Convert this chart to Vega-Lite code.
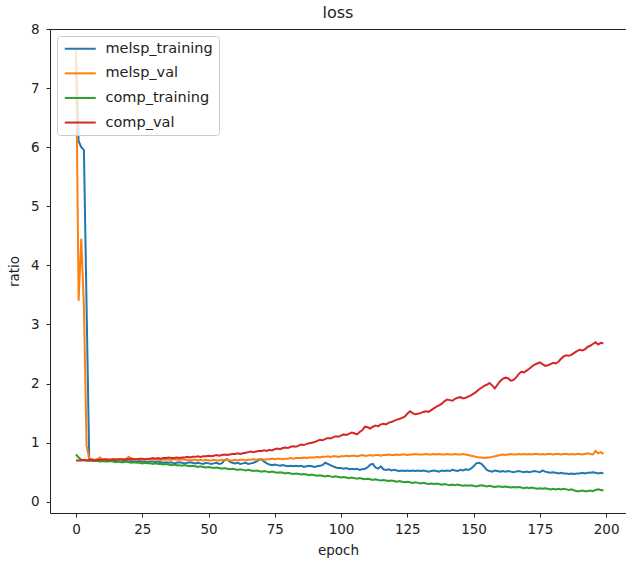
{
"$schema": "https://vega.github.io/schema/vega-lite/v6.json",
"autosize": {"type": "none"},
"padding": {"left": 50, "top": 29, "right": 0, "bottom": 48},
"width": 576,
"height": 484,
"title": {"text": "loss", "fontSize": 16, "font": "DejaVu Sans", "fontWeight": "normal", "color": "#222222", "offset": 1},
"data": {"values": [
{"epoch":0,"melsp_training":7.55,"melsp_val":7.65,"comp_training":0.80,"comp_val":0.70},
{"epoch":1,"melsp_training":6.10,"melsp_val":3.40,"comp_training":0.75,"comp_val":0.70},
{"epoch":2,"melsp_training":6.00,"melsp_val":4.45,"comp_training":0.71,"comp_val":0.70},
{"epoch":3,"melsp_training":5.95,"melsp_val":3.30,"comp_training":0.70,"comp_val":0.71},
{"epoch":4,"melsp_training":3.30,"melsp_val":0.95,"comp_training":0.70,"comp_val":0.70},
{"epoch":5,"melsp_training":0.72,"melsp_val":0.73,"comp_training":0.69,"comp_val":0.71},
{"epoch":6,"melsp_training":0.70,"melsp_val":0.72,"comp_training":0.70,"comp_val":0.71},
{"epoch":7,"melsp_training":0.70,"melsp_val":0.71,"comp_training":0.69,"comp_val":0.70},
{"epoch":8,"melsp_training":0.69,"melsp_val":0.72,"comp_training":0.69,"comp_val":0.71},
{"epoch":9,"melsp_training":0.70,"melsp_val":0.75,"comp_training":0.68,"comp_val":0.71},
{"epoch":10,"melsp_training":0.69,"melsp_val":0.72,"comp_training":0.69,"comp_val":0.71},
{"epoch":11,"melsp_training":0.70,"melsp_val":0.71,"comp_training":0.68,"comp_val":0.72},
{"epoch":12,"melsp_training":0.69,"melsp_val":0.72,"comp_training":0.68,"comp_val":0.71},
{"epoch":13,"melsp_training":0.69,"melsp_val":0.71,"comp_training":0.69,"comp_val":0.71},
{"epoch":14,"melsp_training":0.70,"melsp_val":0.72,"comp_training":0.68,"comp_val":0.72},
{"epoch":15,"melsp_training":0.69,"melsp_val":0.72,"comp_training":0.67,"comp_val":0.71},
{"epoch":16,"melsp_training":0.69,"melsp_val":0.71,"comp_training":0.68,"comp_val":0.72},
{"epoch":17,"melsp_training":0.68,"melsp_val":0.72,"comp_training":0.67,"comp_val":0.72},
{"epoch":18,"melsp_training":0.69,"melsp_val":0.72,"comp_training":0.67,"comp_val":0.71},
{"epoch":19,"melsp_training":0.69,"melsp_val":0.73,"comp_training":0.68,"comp_val":0.72},
{"epoch":20,"melsp_training":0.68,"melsp_val":0.76,"comp_training":0.67,"comp_val":0.72},
{"epoch":21,"melsp_training":0.69,"melsp_val":0.72,"comp_training":0.66,"comp_val":0.73},
{"epoch":22,"melsp_training":0.68,"melsp_val":0.71,"comp_training":0.67,"comp_val":0.72},
{"epoch":23,"melsp_training":0.68,"melsp_val":0.72,"comp_training":0.66,"comp_val":0.72},
{"epoch":24,"melsp_training":0.69,"melsp_val":0.72,"comp_training":0.66,"comp_val":0.73},
{"epoch":25,"melsp_training":0.68,"melsp_val":0.71,"comp_training":0.65,"comp_val":0.73},
{"epoch":26,"melsp_training":0.68,"melsp_val":0.72,"comp_training":0.66,"comp_val":0.72},
{"epoch":27,"melsp_training":0.67,"melsp_val":0.71,"comp_training":0.65,"comp_val":0.73},
{"epoch":28,"melsp_training":0.68,"melsp_val":0.72,"comp_training":0.65,"comp_val":0.73},
{"epoch":29,"melsp_training":0.68,"melsp_val":0.72,"comp_training":0.64,"comp_val":0.74},
{"epoch":30,"melsp_training":0.67,"melsp_val":0.71,"comp_training":0.65,"comp_val":0.73},
{"epoch":31,"melsp_training":0.68,"melsp_val":0.72,"comp_training":0.64,"comp_val":0.74},
{"epoch":32,"melsp_training":0.67,"melsp_val":0.71,"comp_training":0.64,"comp_val":0.73},
{"epoch":33,"melsp_training":0.66,"melsp_val":0.71,"comp_training":0.63,"comp_val":0.74},
{"epoch":34,"melsp_training":0.67,"melsp_val":0.72,"comp_training":0.64,"comp_val":0.74},
{"epoch":35,"melsp_training":0.66,"melsp_val":0.71,"comp_training":0.63,"comp_val":0.75},
{"epoch":36,"melsp_training":0.67,"melsp_val":0.71,"comp_training":0.62,"comp_val":0.74},
{"epoch":37,"melsp_training":0.65,"melsp_val":0.72,"comp_training":0.63,"comp_val":0.74},
{"epoch":38,"melsp_training":0.66,"melsp_val":0.71,"comp_training":0.62,"comp_val":0.75},
{"epoch":39,"melsp_training":0.67,"melsp_val":0.71,"comp_training":0.62,"comp_val":0.74},
{"epoch":40,"melsp_training":0.66,"melsp_val":0.72,"comp_training":0.61,"comp_val":0.75},
{"epoch":41,"melsp_training":0.65,"melsp_val":0.71,"comp_training":0.62,"comp_val":0.75},
{"epoch":42,"melsp_training":0.66,"melsp_val":0.71,"comp_training":0.61,"comp_val":0.76},
{"epoch":43,"melsp_training":0.67,"melsp_val":0.70,"comp_training":0.60,"comp_val":0.75},
{"epoch":44,"melsp_training":0.66,"melsp_val":0.71,"comp_training":0.61,"comp_val":0.76},
{"epoch":45,"melsp_training":0.65,"melsp_val":0.71,"comp_training":0.60,"comp_val":0.76},
{"epoch":46,"melsp_training":0.66,"melsp_val":0.70,"comp_training":0.59,"comp_val":0.77},
{"epoch":47,"melsp_training":0.65,"melsp_val":0.71,"comp_training":0.60,"comp_val":0.76},
{"epoch":48,"melsp_training":0.64,"melsp_val":0.70,"comp_training":0.59,"comp_val":0.77},
{"epoch":49,"melsp_training":0.66,"melsp_val":0.71,"comp_training":0.58,"comp_val":0.77},
{"epoch":50,"melsp_training":0.65,"melsp_val":0.70,"comp_training":0.59,"comp_val":0.78},
{"epoch":51,"melsp_training":0.64,"melsp_val":0.70,"comp_training":0.58,"comp_val":0.77},
{"epoch":52,"melsp_training":0.65,"melsp_val":0.71,"comp_training":0.57,"comp_val":0.78},
{"epoch":53,"melsp_training":0.66,"melsp_val":0.70,"comp_training":0.58,"comp_val":0.79},
{"epoch":54,"melsp_training":0.64,"melsp_val":0.70,"comp_training":0.57,"comp_val":0.78},
{"epoch":55,"melsp_training":0.65,"melsp_val":0.71,"comp_training":0.56,"comp_val":0.79},
{"epoch":56,"melsp_training":0.70,"melsp_val":0.70,"comp_training":0.57,"comp_val":0.80},
{"epoch":57,"melsp_training":0.72,"melsp_val":0.71,"comp_training":0.56,"comp_val":0.79},
{"epoch":58,"melsp_training":0.68,"melsp_val":0.70,"comp_training":0.55,"comp_val":0.80},
{"epoch":59,"melsp_training":0.66,"melsp_val":0.70,"comp_training":0.56,"comp_val":0.81},
{"epoch":60,"melsp_training":0.65,"melsp_val":0.71,"comp_training":0.55,"comp_val":0.81},
{"epoch":61,"melsp_training":0.66,"melsp_val":0.70,"comp_training":0.54,"comp_val":0.82},
{"epoch":62,"melsp_training":0.64,"melsp_val":0.71,"comp_training":0.55,"comp_val":0.81},
{"epoch":63,"melsp_training":0.65,"melsp_val":0.71,"comp_training":0.54,"comp_val":0.82},
{"epoch":64,"melsp_training":0.66,"melsp_val":0.70,"comp_training":0.53,"comp_val":0.83},
{"epoch":65,"melsp_training":0.64,"melsp_val":0.71,"comp_training":0.54,"comp_val":0.84},
{"epoch":66,"melsp_training":0.65,"melsp_val":0.71,"comp_training":0.53,"comp_val":0.85},
{"epoch":67,"melsp_training":0.66,"melsp_val":0.72,"comp_training":0.52,"comp_val":0.84},
{"epoch":68,"melsp_training":0.68,"melsp_val":0.71,"comp_training":0.53,"comp_val":0.85},
{"epoch":69,"melsp_training":0.71,"melsp_val":0.72,"comp_training":0.52,"comp_val":0.86},
{"epoch":70,"melsp_training":0.72,"melsp_val":0.72,"comp_training":0.51,"comp_val":0.86},
{"epoch":71,"melsp_training":0.68,"melsp_val":0.71,"comp_training":0.52,"comp_val":0.87},
{"epoch":72,"melsp_training":0.65,"melsp_val":0.72,"comp_training":0.51,"comp_val":0.86},
{"epoch":73,"melsp_training":0.63,"melsp_val":0.72,"comp_training":0.50,"comp_val":0.88},
{"epoch":74,"melsp_training":0.62,"melsp_val":0.73,"comp_training":0.51,"comp_val":0.87},
{"epoch":75,"melsp_training":0.63,"melsp_val":0.72,"comp_training":0.50,"comp_val":0.89},
{"epoch":76,"melsp_training":0.62,"melsp_val":0.73,"comp_training":0.49,"comp_val":0.90},
{"epoch":77,"melsp_training":0.61,"melsp_val":0.73,"comp_training":0.50,"comp_val":0.89},
{"epoch":78,"melsp_training":0.62,"melsp_val":0.72,"comp_training":0.49,"comp_val":0.91},
{"epoch":79,"melsp_training":0.61,"melsp_val":0.73,"comp_training":0.48,"comp_val":0.92},
{"epoch":80,"melsp_training":0.60,"melsp_val":0.73,"comp_training":0.49,"comp_val":0.91},
{"epoch":81,"melsp_training":0.61,"melsp_val":0.74,"comp_training":0.48,"comp_val":0.93},
{"epoch":82,"melsp_training":0.60,"melsp_val":0.73,"comp_training":0.47,"comp_val":0.94},
{"epoch":83,"melsp_training":0.61,"melsp_val":0.74,"comp_training":0.48,"comp_val":0.93},
{"epoch":84,"melsp_training":0.60,"melsp_val":0.74,"comp_training":0.47,"comp_val":0.95},
{"epoch":85,"melsp_training":0.61,"melsp_val":0.74,"comp_training":0.46,"comp_val":0.97},
{"epoch":86,"melsp_training":0.59,"melsp_val":0.75,"comp_training":0.47,"comp_val":0.96},
{"epoch":87,"melsp_training":0.60,"melsp_val":0.74,"comp_training":0.46,"comp_val":0.98},
{"epoch":88,"melsp_training":0.61,"melsp_val":0.75,"comp_training":0.45,"comp_val":0.99},
{"epoch":89,"melsp_training":0.60,"melsp_val":0.75,"comp_training":0.46,"comp_val":1.00},
{"epoch":90,"melsp_training":0.59,"melsp_val":0.75,"comp_training":0.45,"comp_val":1.01},
{"epoch":91,"melsp_training":0.60,"melsp_val":0.76,"comp_training":0.44,"comp_val":1.03},
{"epoch":92,"melsp_training":0.61,"melsp_val":0.75,"comp_training":0.45,"comp_val":1.05},
{"epoch":93,"melsp_training":0.62,"melsp_val":0.76,"comp_training":0.44,"comp_val":1.04},
{"epoch":94,"melsp_training":0.66,"melsp_val":0.76,"comp_training":0.43,"comp_val":1.06},
{"epoch":95,"melsp_training":0.64,"melsp_val":0.77,"comp_training":0.44,"comp_val":1.08},
{"epoch":96,"melsp_training":0.62,"melsp_val":0.76,"comp_training":0.43,"comp_val":1.07},
{"epoch":97,"melsp_training":0.60,"melsp_val":0.77,"comp_training":0.42,"comp_val":1.09},
{"epoch":98,"melsp_training":0.58,"melsp_val":0.77,"comp_training":0.43,"comp_val":1.11},
{"epoch":99,"melsp_training":0.57,"melsp_val":0.76,"comp_training":0.42,"comp_val":1.10},
{"epoch":100,"melsp_training":0.57,"melsp_val":0.77,"comp_training":0.41,"comp_val":1.12},
{"epoch":101,"melsp_training":0.56,"melsp_val":0.77,"comp_training":0.42,"comp_val":1.14},
{"epoch":102,"melsp_training":0.57,"melsp_val":0.78,"comp_training":0.41,"comp_val":1.13},
{"epoch":103,"melsp_training":0.55,"melsp_val":0.77,"comp_training":0.40,"comp_val":1.15},
{"epoch":104,"melsp_training":0.56,"melsp_val":0.78,"comp_training":0.41,"comp_val":1.17},
{"epoch":105,"melsp_training":0.55,"melsp_val":0.78,"comp_training":0.40,"comp_val":1.16},
{"epoch":106,"melsp_training":0.56,"melsp_val":0.77,"comp_training":0.39,"comp_val":1.14},
{"epoch":107,"melsp_training":0.54,"melsp_val":0.78,"comp_training":0.40,"comp_val":1.18},
{"epoch":108,"melsp_training":0.55,"melsp_val":0.79,"comp_training":0.39,"comp_val":1.21},
{"epoch":109,"melsp_training":0.56,"melsp_val":0.78,"comp_training":0.38,"comp_val":1.27},
{"epoch":110,"melsp_training":0.58,"melsp_val":0.78,"comp_training":0.39,"comp_val":1.26},
{"epoch":111,"melsp_training":0.63,"melsp_val":0.79,"comp_training":0.38,"comp_val":1.24},
{"epoch":112,"melsp_training":0.64,"melsp_val":0.78,"comp_training":0.37,"comp_val":1.27},
{"epoch":113,"melsp_training":0.58,"melsp_val":0.79,"comp_training":0.38,"comp_val":1.29},
{"epoch":114,"melsp_training":0.56,"melsp_val":0.79,"comp_training":0.37,"comp_val":1.28},
{"epoch":115,"melsp_training":0.60,"melsp_val":0.78,"comp_training":0.36,"comp_val":1.31},
{"epoch":116,"melsp_training":0.55,"melsp_val":0.79,"comp_training":0.37,"comp_val":1.32},
{"epoch":117,"melsp_training":0.54,"melsp_val":0.79,"comp_training":0.36,"comp_val":1.31},
{"epoch":118,"melsp_training":0.55,"melsp_val":0.80,"comp_training":0.35,"comp_val":1.34},
{"epoch":119,"melsp_training":0.53,"melsp_val":0.79,"comp_training":0.36,"comp_val":1.35},
{"epoch":120,"melsp_training":0.54,"melsp_val":0.79,"comp_training":0.35,"comp_val":1.37},
{"epoch":121,"melsp_training":0.53,"melsp_val":0.80,"comp_training":0.34,"comp_val":1.39},
{"epoch":122,"melsp_training":0.52,"melsp_val":0.79,"comp_training":0.35,"comp_val":1.40},
{"epoch":123,"melsp_training":0.53,"melsp_val":0.80,"comp_training":0.34,"comp_val":1.42},
{"epoch":124,"melsp_training":0.52,"melsp_val":0.80,"comp_training":0.33,"comp_val":1.44},
{"epoch":125,"melsp_training":0.53,"melsp_val":0.79,"comp_training":0.34,"comp_val":1.49},
{"epoch":126,"melsp_training":0.52,"melsp_val":0.80,"comp_training":0.33,"comp_val":1.53},
{"epoch":127,"melsp_training":0.53,"melsp_val":0.80,"comp_training":0.32,"comp_val":1.50},
{"epoch":128,"melsp_training":0.52,"melsp_val":0.81,"comp_training":0.33,"comp_val":1.48},
{"epoch":129,"melsp_training":0.53,"melsp_val":0.80,"comp_training":0.32,"comp_val":1.49},
{"epoch":130,"melsp_training":0.52,"melsp_val":0.80,"comp_training":0.31,"comp_val":1.50},
{"epoch":131,"melsp_training":0.53,"melsp_val":0.80,"comp_training":0.32,"comp_val":1.52},
{"epoch":132,"melsp_training":0.52,"melsp_val":0.81,"comp_training":0.31,"comp_val":1.53},
{"epoch":133,"melsp_training":0.51,"melsp_val":0.80,"comp_training":0.30,"comp_val":1.52},
{"epoch":134,"melsp_training":0.52,"melsp_val":0.80,"comp_training":0.31,"comp_val":1.55},
{"epoch":135,"melsp_training":0.53,"melsp_val":0.81,"comp_training":0.30,"comp_val":1.58},
{"epoch":136,"melsp_training":0.52,"melsp_val":0.80,"comp_training":0.31,"comp_val":1.61},
{"epoch":137,"melsp_training":0.51,"melsp_val":0.81,"comp_training":0.30,"comp_val":1.63},
{"epoch":138,"melsp_training":0.53,"melsp_val":0.80,"comp_training":0.29,"comp_val":1.66},
{"epoch":139,"melsp_training":0.52,"melsp_val":0.80,"comp_training":0.30,"comp_val":1.70},
{"epoch":140,"melsp_training":0.53,"melsp_val":0.81,"comp_training":0.29,"comp_val":1.73},
{"epoch":141,"melsp_training":0.52,"melsp_val":0.80,"comp_training":0.28,"comp_val":1.72},
{"epoch":142,"melsp_training":0.54,"melsp_val":0.80,"comp_training":0.29,"comp_val":1.71},
{"epoch":143,"melsp_training":0.53,"melsp_val":0.81,"comp_training":0.28,"comp_val":1.74},
{"epoch":144,"melsp_training":0.52,"melsp_val":0.80,"comp_training":0.29,"comp_val":1.76},
{"epoch":145,"melsp_training":0.54,"melsp_val":0.80,"comp_training":0.28,"comp_val":1.77},
{"epoch":146,"melsp_training":0.53,"melsp_val":0.81,"comp_training":0.27,"comp_val":1.75},
{"epoch":147,"melsp_training":0.55,"melsp_val":0.80,"comp_training":0.28,"comp_val":1.76},
{"epoch":148,"melsp_training":0.54,"melsp_val":0.79,"comp_training":0.27,"comp_val":1.78},
{"epoch":149,"melsp_training":0.56,"melsp_val":0.78,"comp_training":0.28,"comp_val":1.80},
{"epoch":150,"melsp_training":0.60,"melsp_val":0.77,"comp_training":0.27,"comp_val":1.83},
{"epoch":151,"melsp_training":0.65,"melsp_val":0.76,"comp_training":0.26,"comp_val":1.86},
{"epoch":152,"melsp_training":0.66,"melsp_val":0.75,"comp_training":0.27,"comp_val":1.90},
{"epoch":153,"melsp_training":0.64,"melsp_val":0.75,"comp_training":0.28,"comp_val":1.93},
{"epoch":154,"melsp_training":0.59,"melsp_val":0.74,"comp_training":0.27,"comp_val":1.96},
{"epoch":155,"melsp_training":0.54,"melsp_val":0.75,"comp_training":0.26,"comp_val":1.98},
{"epoch":156,"melsp_training":0.52,"melsp_val":0.75,"comp_training":0.27,"comp_val":2.01},
{"epoch":157,"melsp_training":0.51,"melsp_val":0.76,"comp_training":0.26,"comp_val":1.97},
{"epoch":158,"melsp_training":0.53,"melsp_val":0.77,"comp_training":0.25,"comp_val":1.92},
{"epoch":159,"melsp_training":0.52,"melsp_val":0.78,"comp_training":0.26,"comp_val":1.98},
{"epoch":160,"melsp_training":0.51,"melsp_val":0.79,"comp_training":0.26,"comp_val":2.04},
{"epoch":161,"melsp_training":0.52,"melsp_val":0.80,"comp_training":0.25,"comp_val":2.08},
{"epoch":162,"melsp_training":0.51,"melsp_val":0.79,"comp_training":0.26,"comp_val":2.10},
{"epoch":163,"melsp_training":0.52,"melsp_val":0.80,"comp_training":0.25,"comp_val":2.09},
{"epoch":164,"melsp_training":0.51,"melsp_val":0.81,"comp_training":0.24,"comp_val":2.05},
{"epoch":165,"melsp_training":0.50,"melsp_val":0.80,"comp_training":0.25,"comp_val":2.06},
{"epoch":166,"melsp_training":0.51,"melsp_val":0.80,"comp_training":0.24,"comp_val":2.10},
{"epoch":167,"melsp_training":0.52,"melsp_val":0.81,"comp_training":0.25,"comp_val":2.16},
{"epoch":168,"melsp_training":0.51,"melsp_val":0.80,"comp_training":0.24,"comp_val":2.20},
{"epoch":169,"melsp_training":0.50,"melsp_val":0.81,"comp_training":0.23,"comp_val":2.19},
{"epoch":170,"melsp_training":0.51,"melsp_val":0.80,"comp_training":0.24,"comp_val":2.22},
{"epoch":171,"melsp_training":0.50,"melsp_val":0.81,"comp_training":0.23,"comp_val":2.25},
{"epoch":172,"melsp_training":0.51,"melsp_val":0.80,"comp_training":0.24,"comp_val":2.29},
{"epoch":173,"melsp_training":0.52,"melsp_val":0.81,"comp_training":0.23,"comp_val":2.32},
{"epoch":174,"melsp_training":0.51,"melsp_val":0.81,"comp_training":0.22,"comp_val":2.34},
{"epoch":175,"melsp_training":0.50,"melsp_val":0.80,"comp_training":0.23,"comp_val":2.36},
{"epoch":176,"melsp_training":0.53,"melsp_val":0.81,"comp_training":0.22,"comp_val":2.33},
{"epoch":177,"melsp_training":0.51,"melsp_val":0.80,"comp_training":0.23,"comp_val":2.30},
{"epoch":178,"melsp_training":0.50,"melsp_val":0.81,"comp_training":0.22,"comp_val":2.31},
{"epoch":179,"melsp_training":0.49,"melsp_val":0.81,"comp_training":0.21,"comp_val":2.33},
{"epoch":180,"melsp_training":0.50,"melsp_val":0.80,"comp_training":0.22,"comp_val":2.35},
{"epoch":181,"melsp_training":0.49,"melsp_val":0.81,"comp_training":0.21,"comp_val":2.34},
{"epoch":182,"melsp_training":0.48,"melsp_val":0.81,"comp_training":0.22,"comp_val":2.37},
{"epoch":183,"melsp_training":0.49,"melsp_val":0.80,"comp_training":0.21,"comp_val":2.42},
{"epoch":184,"melsp_training":0.48,"melsp_val":0.81,"comp_training":0.22,"comp_val":2.46},
{"epoch":185,"melsp_training":0.48,"melsp_val":0.81,"comp_training":0.21,"comp_val":2.48},
{"epoch":186,"melsp_training":0.47,"melsp_val":0.80,"comp_training":0.20,"comp_val":2.47},
{"epoch":187,"melsp_training":0.48,"melsp_val":0.81,"comp_training":0.21,"comp_val":2.49},
{"epoch":188,"melsp_training":0.47,"melsp_val":0.80,"comp_training":0.19,"comp_val":2.52},
{"epoch":189,"melsp_training":0.48,"melsp_val":0.81,"comp_training":0.18,"comp_val":2.55},
{"epoch":190,"melsp_training":0.48,"melsp_val":0.81,"comp_training":0.18,"comp_val":2.57},
{"epoch":191,"melsp_training":0.49,"melsp_val":0.80,"comp_training":0.19,"comp_val":2.56},
{"epoch":192,"melsp_training":0.48,"melsp_val":0.81,"comp_training":0.18,"comp_val":2.58},
{"epoch":193,"melsp_training":0.49,"melsp_val":0.82,"comp_training":0.18,"comp_val":2.62},
{"epoch":194,"melsp_training":0.49,"melsp_val":0.81,"comp_training":0.19,"comp_val":2.64},
{"epoch":195,"melsp_training":0.50,"melsp_val":0.80,"comp_training":0.18,"comp_val":2.67},
{"epoch":196,"melsp_training":0.49,"melsp_val":0.86,"comp_training":0.20,"comp_val":2.70},
{"epoch":197,"melsp_training":0.48,"melsp_val":0.82,"comp_training":0.21,"comp_val":2.66},
{"epoch":198,"melsp_training":0.49,"melsp_val":0.84,"comp_training":0.20,"comp_val":2.69},
{"epoch":199,"melsp_training":0.48,"melsp_val":0.81,"comp_training":0.19,"comp_val":2.68}
]},
"transform": [{"fold": ["melsp_training", "melsp_val", "comp_training", "comp_val"], "as": ["series", "ratio"]}],
"layer": [
{
"mark": {"type": "line", "strokeWidth": 2, "clip": true},
"encoding": {
"x": {"field": "epoch", "type": "quantitative", "scale": {"domain": [-9.8, 207.5], "nice": false, "zero": false},
"axis": {"orient": "bottom", "values": [0, 25, 50, 75, 100, 125, 150, 175, 200], "grid": false, "tickSize": 4, "tickColor": "#222222", "domainColor": "#222222", "labelColor": "#222222", "labelFontSize": 13.5, "labelPadding": 5, "labelFlush": false, "title": "epoch", "titleFontSize": 13.5, "titleFontWeight": "normal", "titleColor": "#222222", "titlePadding": 8}},
"y": {"field": "ratio", "type": "quantitative", "scale": {"domain": [-0.19, 8.0], "nice": false, "zero": false},
"axis": {"values": [0, 1, 2, 3, 4, 5, 6, 7, 8], "grid": false, "tickSize": 4, "tickColor": "#222222", "domainColor": "#222222", "labelColor": "#222222", "labelFontSize": 13.5, "labelPadding": 7, "labelFlush": false, "title": "ratio", "titleFontSize": 13.5, "titleFontWeight": "normal", "titleColor": "#222222", "titlePadding": 9}},
"color": {"field": "series", "type": "nominal",
"scale": {"domain": ["melsp_training", "melsp_val", "comp_training", "comp_val"], "range": ["#1f77b4", "#ff7f0e", "#2ca02c", "#d62728"]},
"legend": {"orient": "none", "legendX": 7, "legendY": 7, "title": null, "symbolType": "M-4,0H4", "symbolSize": 60, "symbolStrokeWidth": 2, "symbolOffset": 10.5, "labelFontSize": 14.5, "labelColor": "#222222", "labelOffset": 18, "rowPadding": 9.6, "padding": 5.5, "fillColor": "rgba(255,255,255,0.8)", "strokeColor": "#cccccc", "cornerRadius": 3}}
}
},
{
"mark": {"type": "line", "opacity": 0},
"encoding": {
"x": {"field": "epoch", "type": "quantitative", "axis": {"orient": "top", "labels": false, "ticks": false, "grid": false, "title": null, "domainColor": "#222222"}},
"y": {"field": "ratio", "type": "quantitative", "axis": null}
}
}
],
"resolve": {"axis": {"x": "independent", "y": "independent"}},
"config": {"view": {"stroke": null}, "font": "DejaVu Sans"}
}
